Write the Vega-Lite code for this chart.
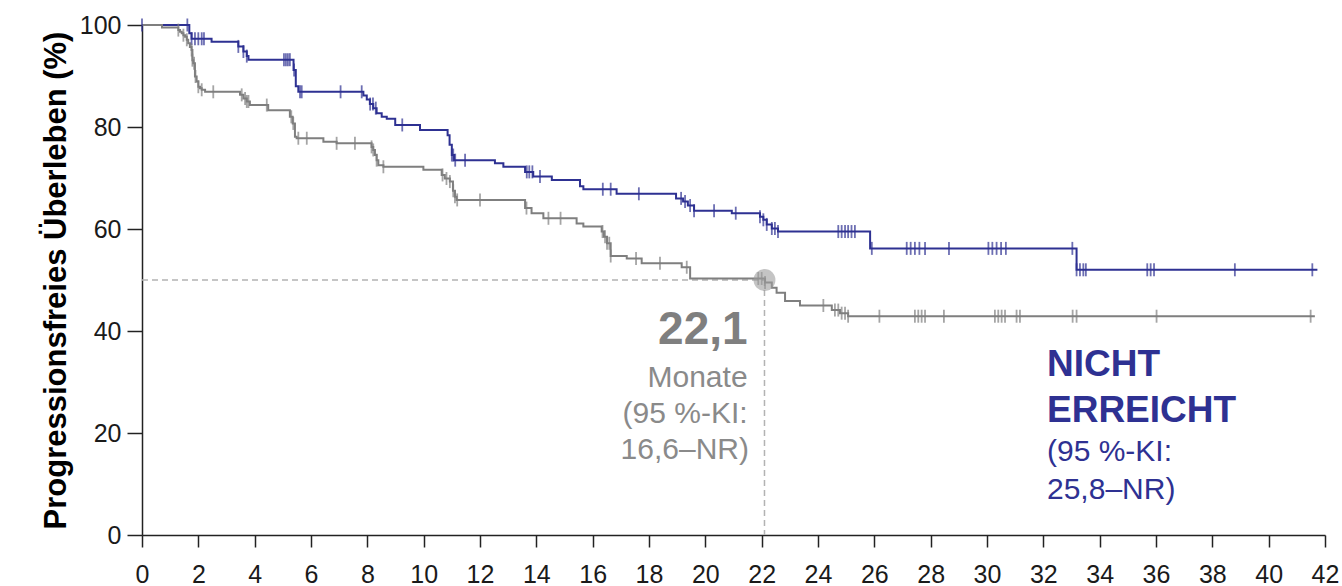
{
  "$schema": "https://vega.github.io/schema/vega-lite/v6.json",
  "width": 1183,
  "height": 510,
  "autosize": {"type": "none"},
  "padding": {"left": 142, "top": 25, "right": 17, "bottom": 51},
  "background": "white",
  "config": {
    "view": {"stroke": null},
    "font": "Liberation Sans",
    "axis": {
      "grid": false,
      "domainColor": "#222222",
      "domainWidth": 1.5,
      "tickColor": "#222222",
      "tickWidth": 1.5,
      "labelFont": "Liberation Sans",
      "labelFontSize": 25,
      "labelColor": "#1a1a1a",
      "titleFont": "Liberation Sans"
    }
  },
  "data": {"name": "median"},
  "datasets": {
    "steps": [
      {"arm": "A", "month": 0, "pfs": 100},
      {"arm": "A", "month": 1.68, "pfs": 98.4},
      {"arm": "A", "month": 1.76, "pfs": 97.3},
      {"arm": "A", "month": 2.47, "pfs": 96.7},
      {"arm": "A", "month": 3.42, "pfs": 95.8},
      {"arm": "A", "month": 3.6, "pfs": 94.8},
      {"arm": "A", "month": 3.72, "pfs": 93.9},
      {"arm": "A", "month": 3.78, "pfs": 93.2},
      {"arm": "A", "month": 5.38, "pfs": 91.2},
      {"arm": "A", "month": 5.46, "pfs": 88.0},
      {"arm": "A", "month": 5.55, "pfs": 86.9},
      {"arm": "A", "month": 7.86, "pfs": 86.2},
      {"arm": "A", "month": 7.98, "pfs": 85.4},
      {"arm": "A", "month": 8.09, "pfs": 84.5},
      {"arm": "A", "month": 8.21, "pfs": 83.7},
      {"arm": "A", "month": 8.33, "pfs": 82.7},
      {"arm": "A", "month": 8.51, "pfs": 82.0},
      {"arm": "A", "month": 8.69, "pfs": 81.6},
      {"arm": "A", "month": 8.99, "pfs": 80.4},
      {"arm": "A", "month": 9.87, "pfs": 79.4},
      {"arm": "A", "month": 10.85, "pfs": 78.4},
      {"arm": "A", "month": 10.92, "pfs": 76.5},
      {"arm": "A", "month": 11.0, "pfs": 74.5},
      {"arm": "A", "month": 11.08, "pfs": 73.5},
      {"arm": "A", "month": 12.53, "pfs": 72.9},
      {"arm": "A", "month": 12.83, "pfs": 72.2},
      {"arm": "A", "month": 13.6, "pfs": 71.2},
      {"arm": "A", "month": 13.89, "pfs": 70.3},
      {"arm": "A", "month": 14.55, "pfs": 69.6},
      {"arm": "A", "month": 15.55, "pfs": 68.4},
      {"arm": "A", "month": 15.67, "pfs": 67.8},
      {"arm": "A", "month": 16.85, "pfs": 66.9},
      {"arm": "A", "month": 18.96, "pfs": 66.0},
      {"arm": "A", "month": 19.21, "pfs": 65.4},
      {"arm": "A", "month": 19.38, "pfs": 64.6},
      {"arm": "A", "month": 19.6, "pfs": 63.6},
      {"arm": "A", "month": 20.94, "pfs": 63.1},
      {"arm": "A", "month": 21.94, "pfs": 62.4},
      {"arm": "A", "month": 22.06, "pfs": 61.8},
      {"arm": "A", "month": 22.18, "pfs": 60.9},
      {"arm": "A", "month": 22.36, "pfs": 60.1},
      {"arm": "A", "month": 22.58, "pfs": 59.5},
      {"arm": "A", "month": 25.85, "pfs": 56.2},
      {"arm": "A", "month": 33.18, "pfs": 52.0},
      {"arm": "A", "month": 41.73, "pfs": 52.0},
      {"arm": "B", "month": 0, "pfs": 100},
      {"arm": "B", "month": 0.71, "pfs": 99.5},
      {"arm": "B", "month": 1.29, "pfs": 99.0},
      {"arm": "B", "month": 1.35, "pfs": 98.7},
      {"arm": "B", "month": 1.41, "pfs": 98.4},
      {"arm": "B", "month": 1.47, "pfs": 98.0},
      {"arm": "B", "month": 1.53, "pfs": 97.7},
      {"arm": "B", "month": 1.59, "pfs": 97.1},
      {"arm": "B", "month": 1.64, "pfs": 96.4},
      {"arm": "B", "month": 1.7, "pfs": 95.7},
      {"arm": "B", "month": 1.76, "pfs": 95.1},
      {"arm": "B", "month": 1.79, "pfs": 93.1},
      {"arm": "B", "month": 1.82, "pfs": 92.5},
      {"arm": "B", "month": 1.88, "pfs": 89.9},
      {"arm": "B", "month": 1.94, "pfs": 88.9},
      {"arm": "B", "month": 2.0, "pfs": 87.9},
      {"arm": "B", "month": 2.06, "pfs": 87.6},
      {"arm": "B", "month": 2.12, "pfs": 87.3},
      {"arm": "B", "month": 2.24, "pfs": 86.9},
      {"arm": "B", "month": 3.48, "pfs": 86.3},
      {"arm": "B", "month": 3.6, "pfs": 85.6},
      {"arm": "B", "month": 3.72, "pfs": 85.0},
      {"arm": "B", "month": 3.83, "pfs": 84.3},
      {"arm": "B", "month": 4.48, "pfs": 83.3},
      {"arm": "B", "month": 5.25, "pfs": 82.0},
      {"arm": "B", "month": 5.35, "pfs": 80.7},
      {"arm": "B", "month": 5.43, "pfs": 78.1},
      {"arm": "B", "month": 5.49, "pfs": 77.8},
      {"arm": "B", "month": 6.44, "pfs": 77.1},
      {"arm": "B", "month": 6.91, "pfs": 76.8},
      {"arm": "B", "month": 8.15, "pfs": 76.1},
      {"arm": "B", "month": 8.21, "pfs": 75.5},
      {"arm": "B", "month": 8.27, "pfs": 74.5},
      {"arm": "B", "month": 8.33, "pfs": 73.5},
      {"arm": "B", "month": 8.39, "pfs": 72.5},
      {"arm": "B", "month": 8.57, "pfs": 72.2},
      {"arm": "B", "month": 9.99, "pfs": 71.6},
      {"arm": "B", "month": 10.64, "pfs": 70.6},
      {"arm": "B", "month": 10.75, "pfs": 69.9},
      {"arm": "B", "month": 10.93, "pfs": 69.3},
      {"arm": "B", "month": 11.04, "pfs": 67.5},
      {"arm": "B", "month": 11.11, "pfs": 66.3},
      {"arm": "B", "month": 11.17, "pfs": 65.7},
      {"arm": "B", "month": 13.6, "pfs": 64.1},
      {"arm": "B", "month": 13.83, "pfs": 63.1},
      {"arm": "B", "month": 14.25, "pfs": 62.1},
      {"arm": "B", "month": 15.43, "pfs": 61.1},
      {"arm": "B", "month": 15.67, "pfs": 60.5},
      {"arm": "B", "month": 16.32, "pfs": 59.5},
      {"arm": "B", "month": 16.4, "pfs": 58.5},
      {"arm": "B", "month": 16.51, "pfs": 57.2},
      {"arm": "B", "month": 16.64, "pfs": 54.7},
      {"arm": "B", "month": 17.21, "pfs": 54.2},
      {"arm": "B", "month": 17.74, "pfs": 53.3},
      {"arm": "B", "month": 19.16, "pfs": 52.5},
      {"arm": "B", "month": 19.46, "pfs": 50.3},
      {"arm": "B", "month": 22.12, "pfs": 49.5},
      {"arm": "B", "month": 22.36, "pfs": 48.5},
      {"arm": "B", "month": 22.53, "pfs": 47.5},
      {"arm": "B", "month": 22.83, "pfs": 45.9},
      {"arm": "B", "month": 23.36, "pfs": 45.0},
      {"arm": "B", "month": 24.49, "pfs": 44.1},
      {"arm": "B", "month": 24.78, "pfs": 43.5},
      {"arm": "B", "month": 25.07, "pfs": 42.9},
      {"arm": "B", "month": 41.64, "pfs": 42.9}
    ],
    "censored": [
      {"arm": "A", "month": 0, "pfs": 100},
      {"arm": "A", "month": 1.61, "pfs": 100},
      {"arm": "A", "month": 1.76, "pfs": 97.3},
      {"arm": "A", "month": 1.88, "pfs": 97.3},
      {"arm": "A", "month": 2.0, "pfs": 97.3},
      {"arm": "A", "month": 2.12, "pfs": 97.3},
      {"arm": "A", "month": 2.2, "pfs": 97.3},
      {"arm": "A", "month": 3.42, "pfs": 95.8},
      {"arm": "A", "month": 3.6, "pfs": 94.8},
      {"arm": "A", "month": 3.72, "pfs": 93.9},
      {"arm": "A", "month": 5.04, "pfs": 93.2},
      {"arm": "A", "month": 5.11, "pfs": 93.2},
      {"arm": "A", "month": 5.18, "pfs": 93.2},
      {"arm": "A", "month": 5.25, "pfs": 93.2},
      {"arm": "A", "month": 5.4, "pfs": 91.2},
      {"arm": "A", "month": 5.61, "pfs": 86.9},
      {"arm": "A", "month": 5.67, "pfs": 86.9},
      {"arm": "A", "month": 7.05, "pfs": 86.9},
      {"arm": "A", "month": 7.8, "pfs": 86.9},
      {"arm": "A", "month": 8.1, "pfs": 84.5},
      {"arm": "A", "month": 8.2, "pfs": 84.5},
      {"arm": "A", "month": 8.3, "pfs": 83.7},
      {"arm": "A", "month": 9.24, "pfs": 80.4},
      {"arm": "A", "month": 11.0, "pfs": 74.5},
      {"arm": "A", "month": 11.05, "pfs": 74.5},
      {"arm": "A", "month": 11.12, "pfs": 73.5},
      {"arm": "A", "month": 11.47, "pfs": 73.5},
      {"arm": "A", "month": 13.66, "pfs": 71.2},
      {"arm": "A", "month": 13.75, "pfs": 71.2},
      {"arm": "A", "month": 13.86, "pfs": 71.2},
      {"arm": "A", "month": 14.13, "pfs": 70.3},
      {"arm": "A", "month": 16.36, "pfs": 67.8},
      {"arm": "A", "month": 16.64, "pfs": 67.8},
      {"arm": "A", "month": 17.64, "pfs": 66.9},
      {"arm": "A", "month": 19.14, "pfs": 66.0},
      {"arm": "A", "month": 19.28, "pfs": 65.4},
      {"arm": "A", "month": 19.46, "pfs": 64.6},
      {"arm": "A", "month": 19.6, "pfs": 63.6},
      {"arm": "A", "month": 20.31, "pfs": 63.6},
      {"arm": "A", "month": 21.08, "pfs": 63.1},
      {"arm": "A", "month": 21.94, "pfs": 62.4},
      {"arm": "A", "month": 22.06, "pfs": 61.8},
      {"arm": "A", "month": 22.18, "pfs": 60.9},
      {"arm": "A", "month": 22.36, "pfs": 60.1},
      {"arm": "A", "month": 22.47, "pfs": 60.1},
      {"arm": "A", "month": 22.58, "pfs": 59.5},
      {"arm": "A", "month": 24.72, "pfs": 59.5},
      {"arm": "A", "month": 24.84, "pfs": 59.5},
      {"arm": "A", "month": 24.96, "pfs": 59.5},
      {"arm": "A", "month": 25.07, "pfs": 59.5},
      {"arm": "A", "month": 25.19, "pfs": 59.5},
      {"arm": "A", "month": 25.31, "pfs": 59.5},
      {"arm": "A", "month": 25.91, "pfs": 56.2},
      {"arm": "A", "month": 27.15, "pfs": 56.2},
      {"arm": "A", "month": 27.29, "pfs": 56.2},
      {"arm": "A", "month": 27.44, "pfs": 56.2},
      {"arm": "A", "month": 27.6, "pfs": 56.2},
      {"arm": "A", "month": 27.8, "pfs": 56.2},
      {"arm": "A", "month": 28.65, "pfs": 56.2},
      {"arm": "A", "month": 30.05, "pfs": 56.2},
      {"arm": "A", "month": 30.19, "pfs": 56.2},
      {"arm": "A", "month": 30.34, "pfs": 56.2},
      {"arm": "A", "month": 30.5, "pfs": 56.2},
      {"arm": "A", "month": 30.67, "pfs": 56.2},
      {"arm": "A", "month": 33.03, "pfs": 56.2},
      {"arm": "A", "month": 33.18, "pfs": 52.0},
      {"arm": "A", "month": 33.3, "pfs": 52.0},
      {"arm": "A", "month": 33.42, "pfs": 52.0},
      {"arm": "A", "month": 33.51, "pfs": 52.0},
      {"arm": "A", "month": 35.69, "pfs": 52.0},
      {"arm": "A", "month": 35.81, "pfs": 52.0},
      {"arm": "A", "month": 35.93, "pfs": 52.0},
      {"arm": "A", "month": 38.8, "pfs": 52.0},
      {"arm": "A", "month": 41.55, "pfs": 52.0},
      {"arm": "B", "month": 1.29, "pfs": 99.0},
      {"arm": "B", "month": 1.47, "pfs": 98.0},
      {"arm": "B", "month": 1.59, "pfs": 97.1},
      {"arm": "B", "month": 1.76, "pfs": 95.1},
      {"arm": "B", "month": 1.79, "pfs": 93.1},
      {"arm": "B", "month": 1.85, "pfs": 92.5},
      {"arm": "B", "month": 1.9, "pfs": 89.9},
      {"arm": "B", "month": 2.0, "pfs": 87.9},
      {"arm": "B", "month": 2.12, "pfs": 87.3},
      {"arm": "B", "month": 2.53, "pfs": 86.9},
      {"arm": "B", "month": 3.54, "pfs": 86.3},
      {"arm": "B", "month": 3.66, "pfs": 85.6},
      {"arm": "B", "month": 3.72, "pfs": 85.0},
      {"arm": "B", "month": 3.78, "pfs": 85.0},
      {"arm": "B", "month": 4.43, "pfs": 84.3},
      {"arm": "B", "month": 5.3, "pfs": 82.0},
      {"arm": "B", "month": 5.37, "pfs": 80.7},
      {"arm": "B", "month": 5.55, "pfs": 77.8},
      {"arm": "B", "month": 5.85, "pfs": 77.8},
      {"arm": "B", "month": 6.91, "pfs": 76.8},
      {"arm": "B", "month": 7.56, "pfs": 76.8},
      {"arm": "B", "month": 8.15, "pfs": 76.1},
      {"arm": "B", "month": 8.21, "pfs": 75.5},
      {"arm": "B", "month": 8.33, "pfs": 73.5},
      {"arm": "B", "month": 8.57, "pfs": 72.2},
      {"arm": "B", "month": 10.67, "pfs": 70.6},
      {"arm": "B", "month": 10.81, "pfs": 69.9},
      {"arm": "B", "month": 10.93, "pfs": 69.3},
      {"arm": "B", "month": 11.05, "pfs": 67.5},
      {"arm": "B", "month": 11.11, "pfs": 66.3},
      {"arm": "B", "month": 11.19, "pfs": 65.7},
      {"arm": "B", "month": 12.0, "pfs": 65.7},
      {"arm": "B", "month": 13.65, "pfs": 64.1},
      {"arm": "B", "month": 14.43, "pfs": 62.1},
      {"arm": "B", "month": 14.86, "pfs": 62.1},
      {"arm": "B", "month": 16.35, "pfs": 59.5},
      {"arm": "B", "month": 16.44, "pfs": 58.5},
      {"arm": "B", "month": 16.51, "pfs": 57.2},
      {"arm": "B", "month": 16.59, "pfs": 57.2},
      {"arm": "B", "month": 16.64, "pfs": 54.7},
      {"arm": "B", "month": 17.54, "pfs": 54.2},
      {"arm": "B", "month": 18.39, "pfs": 53.3},
      {"arm": "B", "month": 19.34, "pfs": 52.5},
      {"arm": "B", "month": 21.88, "pfs": 50.3},
      {"arm": "B", "month": 22.0, "pfs": 50.3},
      {"arm": "B", "month": 22.12, "pfs": 49.5},
      {"arm": "B", "month": 24.19, "pfs": 45.0},
      {"arm": "B", "month": 24.6, "pfs": 44.1},
      {"arm": "B", "month": 24.72, "pfs": 44.1},
      {"arm": "B", "month": 24.84, "pfs": 43.5},
      {"arm": "B", "month": 24.96, "pfs": 43.5},
      {"arm": "B", "month": 25.07, "pfs": 42.9},
      {"arm": "B", "month": 26.18, "pfs": 42.9},
      {"arm": "B", "month": 27.44, "pfs": 42.9},
      {"arm": "B", "month": 27.56, "pfs": 42.9},
      {"arm": "B", "month": 27.68, "pfs": 42.9},
      {"arm": "B", "month": 27.8, "pfs": 42.9},
      {"arm": "B", "month": 28.47, "pfs": 42.9},
      {"arm": "B", "month": 30.28, "pfs": 42.9},
      {"arm": "B", "month": 30.4, "pfs": 42.9},
      {"arm": "B", "month": 30.52, "pfs": 42.9},
      {"arm": "B", "month": 30.64, "pfs": 42.9},
      {"arm": "B", "month": 31.05, "pfs": 42.9},
      {"arm": "B", "month": 31.17, "pfs": 42.9},
      {"arm": "B", "month": 33.04, "pfs": 42.9},
      {"arm": "B", "month": 33.18, "pfs": 42.9},
      {"arm": "B", "month": 36.02, "pfs": 42.9},
      {"arm": "B", "month": 41.49, "pfs": 42.9}
    ],
    "median": [
      {"arm": "B", "month": 22.1, "pfs": 50, "start": 0, "floor": 0}
    ]
  },
  "layer": [
    {
      "data": {"name": "median"},
      "mark": {"type": "rule", "color": "#b3b3b3", "strokeWidth": 1.5, "strokeDash": [6, 4]},
      "encoding": {
        "x": {"field": "start", "type": "quantitative"},
        "x2": {"field": "month"},
        "y": {"field": "pfs", "type": "quantitative"}
      }
    },
    {
      "data": {"name": "median"},
      "mark": {"type": "rule", "color": "#b3b3b3", "strokeWidth": 1.5, "strokeDash": [6, 4]},
      "encoding": {
        "x": {"field": "month", "type": "quantitative"},
        "y": {"field": "pfs", "type": "quantitative"},
        "y2": {"field": "floor"}
      }
    },
    {
      "data": {"name": "steps"},
      "mark": {"type": "line", "interpolate": "step-after", "strokeWidth": 2},
      "encoding": {
        "x": {
          "field": "month", "type": "quantitative",
          "scale": {"domain": [0, 42], "nice": false, "zero": false},
          "axis": {
            "title": null,
            "values": [0, 2, 4, 6, 8, 10, 12, 14, 16, 18, 20, 22, 24, 26, 28, 30, 32, 34, 36, 38, 40, 42],
            "format": "d",
            "tickSize": 12,
            "labelPadding": 15,
            "labelFlush": false,
            "labelOverlap": false
          }
        },
        "y": {
          "field": "pfs", "type": "quantitative",
          "scale": {"domain": [0, 100], "nice": false},
          "axis": {
            "title": "Progressionsfreies Überleben (%)",
            "titleFontSize": 31,
            "titleFontWeight": "bold",
            "titleColor": "#000000",
            "titlePadding": 7,
            "values": [0, 20, 40, 60, 80, 100],
            "tickSize": 15,
            "labelPadding": 6
          }
        },
        "color": {
          "field": "arm", "type": "nominal",
          "scale": {"domain": ["A", "B"], "range": ["#2e3192", "#7f7f7f"]},
          "legend": null
        }
      }
    },
    {
      "data": {"name": "censored"},
      "mark": {"type": "tick", "orient": "vertical", "size": 13, "thickness": 1.8},
      "encoding": {
        "x": {"field": "month", "type": "quantitative"},
        "y": {"field": "pfs", "type": "quantitative"},
        "color": {"field": "arm", "type": "nominal", "legend": null}
      }
    },
    {
      "data": {"name": "median"},
      "mark": {"type": "circle", "size": 480, "color": "#9c9c9c", "opacity": 0.6},
      "encoding": {
        "x": {"field": "month", "type": "quantitative"},
        "y": {"field": "pfs", "type": "quantitative"}
      }
    },
    {
      "data": {"name": "median"},
      "mark": {"type": "text", "text": "22,1", "font": "Liberation Sans", "fontSize": 46, "fontWeight": "bold", "color": "#7f7f7f", "align": "right", "baseline": "middle"},
      "encoding": {"x": {"datum": 21.5, "type": "quantitative"}, "y": {"datum": 40.2, "type": "quantitative"}}
    },
    {
      "data": {"name": "median"},
      "mark": {"type": "text", "text": "Monate", "font": "Liberation Sans", "fontSize": 30, "color": "#8a8a8a", "align": "right", "baseline": "middle"},
      "encoding": {"x": {"datum": 21.5, "type": "quantitative"}, "y": {"datum": 30.8, "type": "quantitative"}}
    },
    {
      "data": {"name": "median"},
      "mark": {"type": "text", "text": "(95 %-KI:", "font": "Liberation Sans", "fontSize": 30, "color": "#8a8a8a", "align": "right", "baseline": "middle"},
      "encoding": {"x": {"datum": 21.5, "type": "quantitative"}, "y": {"datum": 23.7, "type": "quantitative"}}
    },
    {
      "data": {"name": "median"},
      "mark": {"type": "text", "text": "16,6–NR)", "font": "Liberation Sans", "fontSize": 30, "color": "#8a8a8a", "align": "right", "baseline": "middle"},
      "encoding": {"x": {"datum": 21.55, "type": "quantitative"}, "y": {"datum": 16.7, "type": "quantitative"}}
    },
    {
      "data": {"name": "median"},
      "mark": {"type": "text", "text": "NICHT", "font": "Liberation Sans", "fontSize": 37, "fontWeight": "bold", "color": "#2e3192", "align": "left", "baseline": "middle"},
      "encoding": {"x": {"datum": 32.13, "type": "quantitative"}, "y": {"datum": 33.3, "type": "quantitative"}}
    },
    {
      "data": {"name": "median"},
      "mark": {"type": "text", "text": "ERREICHT", "font": "Liberation Sans", "fontSize": 37, "fontWeight": "bold", "color": "#2e3192", "align": "left", "baseline": "middle"},
      "encoding": {"x": {"datum": 32.13, "type": "quantitative"}, "y": {"datum": 24.3, "type": "quantitative"}}
    },
    {
      "data": {"name": "median"},
      "mark": {"type": "text", "text": "(95 %-KI:", "font": "Liberation Sans", "fontSize": 30, "color": "#2e3192", "align": "left", "baseline": "middle"},
      "encoding": {"x": {"datum": 32.13, "type": "quantitative"}, "y": {"datum": 16.3, "type": "quantitative"}}
    },
    {
      "data": {"name": "median"},
      "mark": {"type": "text", "text": "25,8–NR)", "font": "Liberation Sans", "fontSize": 30, "color": "#2e3192", "align": "left", "baseline": "middle"},
      "encoding": {"x": {"datum": 32.13, "type": "quantitative"}, "y": {"datum": 8.8, "type": "quantitative"}}
    }
  ]
}
